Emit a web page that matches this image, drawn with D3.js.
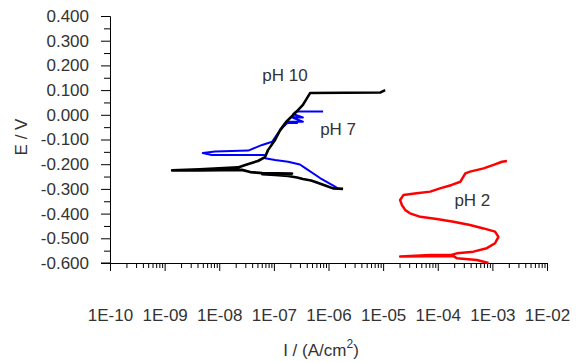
<!DOCTYPE html>
<html>
<head>
<meta charset="utf-8">
<script src="https://cdn.jsdelivr.net/npm/d3@7"></script>
<style>
  html, body { margin: 0; padding: 0; background: #fff; }
  svg { display: block; }
  text { font-family: "Liberation Sans", Arial, sans-serif; fill: #333; }
</style>
</head>
<body>
<svg id="chart" width="583" height="362"></svg>
<script>
// ---- data (current density in A/cm², potential in V) ----
const ph10I = [1.85e-6, 1.21e-6, 8.7e-7, 6.5e-7, 4.8e-7, 3.4e-7, 2.66e-7, 1.82e-7, 1.05e-7, 6.1e-8, 2.15e-7, 6.1e-8, 3.7e-8, 2.6e-8, 4.4e-9, 1.37e-9,
               4.4e-9, 2.2e-8, 3.0e-8, 5.1e-8, 6.9e-8, 7.8e-8, 1.05e-7, 1.3e-7, 1.67e-7, 2.55e-7, 3.4e-7, 4.6e-7, 8.8e-6, 1.09e-5];
const ph10E = [-0.300, -0.298, -0.286, -0.276, -0.266, -0.260, -0.254, -0.248, -0.244, -0.240, -0.238, -0.236, -0.232, -0.223, -0.225, -0.225,
               -0.221, -0.213, -0.203, -0.187, -0.171, -0.143, -0.102, -0.062, -0.029, 0.011, 0.040, 0.088, 0.090, 0.100];

const ph7I = [1.5e-6, 1.32e-6, 7.0e-7, 3.7e-7, 3.0e-7, 1.82e-7, 1.05e-7, 6.9e-8, 6.9e-8, 7.3e-9, 5.0e-9,
              8.4e-9, 3.4e-8, 6.1e-8, 9.3e-8, 1.19e-7, 1.54e-7, 1.75e-7, 2.66e-7, 1.82e-7, 3.4e-7, 2.07e-7, 3.4e-7, 2.25e-7, 2.55e-7, 7.96e-7];
const ph7E = [-0.300, -0.291, -0.256, -0.215, -0.201, -0.190, -0.183, -0.176, -0.163, -0.163, -0.155,
              -0.149, -0.145, -0.122, -0.109, -0.074, -0.045, -0.033, -0.033, -0.028, -0.028, -0.009, -0.011, 0.003, 0.013, 0.013];

const ph2I = [8.5e-4, 5.2e-4, 2.24e-4, 1.94e-4, 2.05e-5, 7.3e-5, 1.69e-4, 2.24e-4, 4.5e-4, 7.9e-4, 1.12e-3, 1.29e-3, 1.12e-3, 6.9e-4,
              3.9e-4, 1.94e-4, 9.6e-5, 4.8e-5, 3.1e-5, 2.53e-5, 2.2e-5, 2.05e-5, 2.35e-5, 4.1e-5, 7.3e-5, 1.1e-4, 1.8e-4, 2.6e-4,
              3.2e-4, 3.9e-4, 6.9e-4, 1.05e-3, 1.5e-3, 1.85e-3];
const ph2E = [-0.600, -0.588, -0.581, -0.572, -0.574, -0.568, -0.568, -0.561, -0.554, -0.540, -0.520, -0.494, -0.473, -0.460,
              -0.446, -0.433, -0.422, -0.413, -0.399, -0.385, -0.365, -0.345, -0.325, -0.318, -0.311, -0.298, -0.284, -0.271,
              -0.237, -0.230, -0.217, -0.203, -0.190, -0.187];

const yTicks = [0.4, 0.3, 0.2, 0.1, 0.0, -0.1, -0.2, -0.3, -0.4, -0.5, -0.6];
const xDecades = [-10, -9, -8, -7, -6, -5, -4, -3, -2];
const seriesLabels = [
  { text: "pH 10", i: 1.6e-7, e: 0.137 },
  { text: "pH 7", i: 1.5e-6, e: -0.082 },
  { text: "pH 2", i: 4.3e-4, e: -0.369 }
];

// ---- scales ----
const svg = d3.select("#chart");
const x = d3.scaleLog().domain([1e-10, 1e-2]).range([110, 547]);
const y = d3.scaleLinear().domain([-0.6, 0.4]).range([263, 16]);
const FS = 17;

// ---- y axis ----
const yMinor = d3.range(-0.55, 0.4, 0.1).map(v => +v.toFixed(2));
const yAll = yTicks.concat(yMinor);
const isYMajor = v => yTicks.some(t => Math.abs(t - v) < 1e-9);
const yAxis = d3.axisLeft(y).tickValues(yAll).tickSize(9).tickPadding(12)
  .tickFormat(v => isYMajor(v) ? v.toFixed(3) : "");
const gy = svg.append("g").attr("transform", "translate(110,0)").call(yAxis);
gy.select(".domain").attr("stroke", "#000").attr("stroke-width", 1);
gy.selectAll(".tick line").attr("stroke", "#000").attr("x2", v => isYMajor(v) ? -9 : -6);
gy.selectAll(".tick text").attr("font-size", FS).attr("fill", "#333")
  .attr("font-family", "Liberation Sans, Arial, sans-serif").attr("x", -21);

// ---- x axis ----
const xAll = [];
xDecades.forEach(d => {
  xAll.push(Math.pow(10, d));
  if (d < -2) for (let m = 2; m <= 9; m++) xAll.push(m * Math.pow(10, d));
});
const isMajor = v => Math.abs(Math.log10(v) - Math.round(Math.log10(v))) < 1e-9;
const fmtX = v => { const e = Math.round(Math.log10(v)); return "1E" + (e < 0 ? "-" : "+") + String(Math.abs(e)).padStart(2, "0"); };
const xAxis = d3.axisBottom(x).tickValues(xAll).tickSize(7).tickPadding(39)
  .tickFormat(v => isMajor(v) ? fmtX(v) : "");
const gx = svg.append("g").attr("transform", "translate(0,263)").call(xAxis);
gx.select(".domain").attr("stroke", "#000").attr("stroke-width", 1);
gx.selectAll(".tick line").attr("stroke", "#000").attr("y2", v => isMajor(v) ? 8 : 5);
gx.selectAll(".tick text").attr("font-size", FS).attr("fill", "#333")
  .attr("font-family", "Liberation Sans, Arial, sans-serif");
svg.append("line").attr("x1", 101).attr("x2", 110).attr("y1", 263).attr("y2", 263).attr("stroke", "#000");

// ---- axis titles ----
const xt = svg.append("text").attr("x", 321).attr("y", 356).attr("text-anchor", "middle").attr("font-size", FS);
xt.append("tspan").text("I / (A/cm");
xt.append("tspan").attr("dy", -8).attr("font-size", 12).text("2");
xt.append("tspan").attr("dy", 8).text(")");

svg.append("text").attr("transform", "translate(27,137) rotate(-90)")
  .attr("text-anchor", "middle").attr("font-size", FS).text("E / V");

// ---- curves ----
const line = d3.line().x(d => x(d[0])).y(d => y(d[1]));
const plot = svg.append("g");
plot.append("path").datum(d3.zip(ph7I, ph7E)).attr("d", line)
  .attr("fill", "none").attr("stroke", "#0000ff").attr("stroke-width", 2).attr("stroke-linejoin", "round");
plot.append("path").datum(d3.zip(ph10I, ph10E)).attr("d", line)
  .attr("fill", "none").attr("stroke", "#000").attr("stroke-width", 2.6).attr("stroke-linejoin", "round");
plot.append("path").datum(d3.zip(ph2I, ph2E)).attr("d", line)
  .attr("fill", "none").attr("stroke", "#ff0000").attr("stroke-width", 2.5).attr("stroke-linejoin", "round");

// ---- series labels ----
seriesLabels.forEach(l => {
  svg.append("text").attr("x", x(l.i)).attr("y", y(l.e)).attr("text-anchor", "middle")
    .attr("font-size", FS).text(l.text);
});
</script>
</body>
</html>
